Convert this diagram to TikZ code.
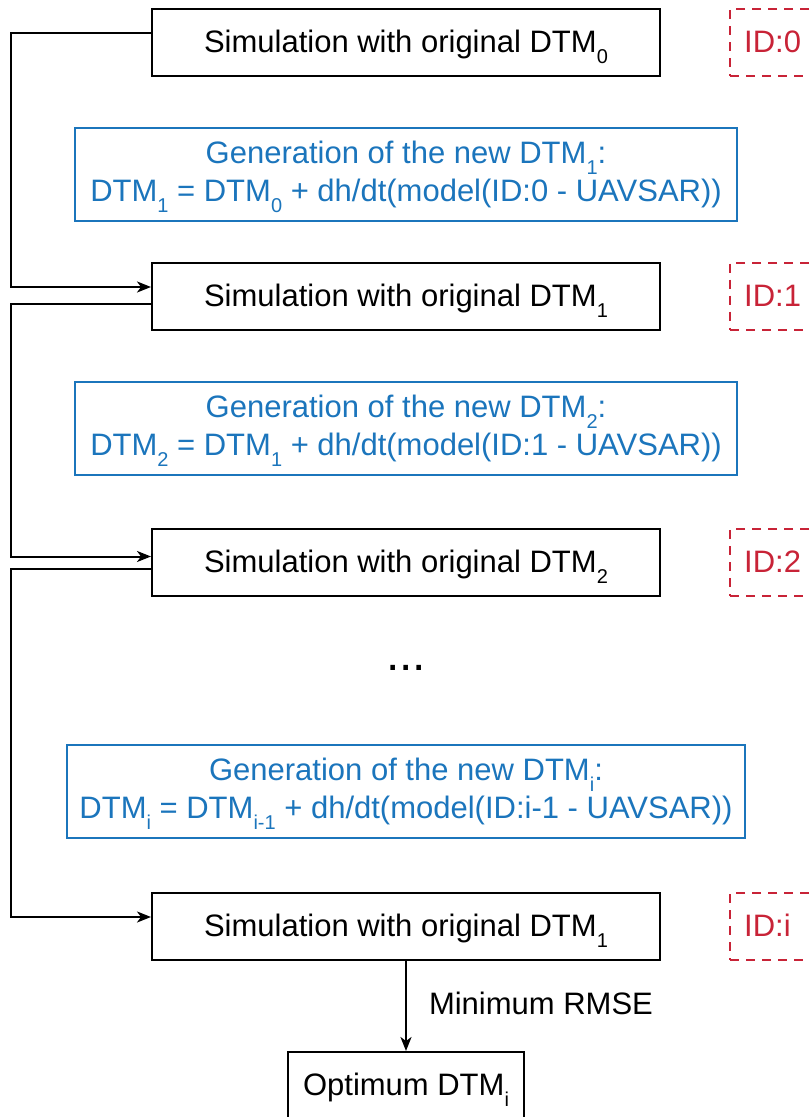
\documentclass[tikz,border=0pt]{standalone}
\usepackage{fontspec}
\setmainfont{Liberation Sans}
\usetikzlibrary{arrows.meta}

\definecolor{genblue}{RGB}{27,117,188}
\definecolor{idred}{RGB}{200,35,55}

% lowered subscript as used in the labels (no effect on the line box)
\newcommand{\dsub}[1]{\raisebox{-11pt}[0pt][0pt]{\fontsize{20}{20}\selectfont #1}}

\tikzset{
  simbox/.style={draw=black, line width=2pt, minimum width=508pt, minimum height=67pt,
                 inner sep=0pt, text height=22.5pt, text depth=2pt,
                 font=\fontsize{31}{36}\selectfont},
  genbox/.style={draw=genblue, line width=2pt, minimum height=93pt, inner sep=0pt,
                 text=genblue, align=center, font=\fontsize{31}{38}\selectfont},
  idbox/.style={draw=idred, line width=2pt, dash pattern=on 9pt off 7pt,
                minimum width=110pt, minimum height=67pt, inner sep=0pt},
  idtext/.style={text=idred, anchor=west, inner sep=0pt, text height=22.5pt, text depth=2pt,
                 font=\fontsize{31}{36}\selectfont},
  optbox/.style={draw=black, line width=2pt, minimum width=236pt, minimum height=67pt,
                 inner sep=0pt, text height=22.5pt, text depth=2pt,
                 font=\fontsize{31}{36}\selectfont},
  link/.style={draw=black, line width=2pt, -{Stealth[length=14pt,width=11pt,inset=4pt]}},
}

\begin{document}
\begin{tikzpicture}[x=1pt, y=-1pt]
  \path[use as bounding box] (0,0) rectangle (810,1117);
  \clip (0,0) rectangle (810,1117);

  % simulation runs
  \node[simbox] (sim0) at (406,42.5) {Simulation with original DTM\dsub{0}};
  \node[simbox] (sim1) at (406,296)  {Simulation with original DTM\dsub{1}};
  \node[simbox] (sim2) at (406,562.5){Simulation with original DTM\dsub{2}};
  \node[simbox] (simi) at (406,926.5){Simulation with original DTM\dsub{1}};

  % DTM generation steps
  \node[genbox, minimum width=662pt] (gen1) at (406,174)
    {Generation of the new DTM\dsub{1}:\\
     DTM\dsub{1} = DTM\dsub{0} + dh/dt(model(ID:0 - UAVSAR))};
  \node[genbox, minimum width=662pt] (gen2) at (406,428)
    {Generation of the new DTM\dsub{2}:\\
     DTM\dsub{2} = DTM\dsub{1} + dh/dt(model(ID:1 - UAVSAR))};
  \node[genbox, minimum width=678pt] (geni) at (406,791)
    {Generation of the new DTM\dsub{i}:\\
     DTM\dsub{i} = DTM\dsub{i-1} + dh/dt(model(ID:i-1 - UAVSAR))};

  % ellipsis between the generic steps
  \node[inner sep=0pt, font=\fontsize{48}{48}\selectfont] (dots) at (406,668) {...};

  % run identifiers
  \node[idbox] (id0) at (785,42.5) {};
  \node[idbox] (id1) at (785,296) {};
  \node[idbox] (id2) at (785,562.5) {};
  \node[idbox] (idi) at (785,926.5) {};
  \node[idtext] (id0t) at (744,42.5) {ID:0};
  \node[idtext] (id1t) at (744,296) {ID:1};
  \node[idtext] (id2t) at (744,562.5) {ID:2};
  \node[idtext] (idit) at (744,926.5) {ID:i};

  % final result
  \node[optbox] (opt) at (406,1085.5) {Optimum DTM\dsub{i}};

  % feedback loops along the left side
  \draw[link] ([yshift=9.5pt]sim0.west) -- ++(-140,0) |- ([yshift=9pt]sim1.west);
  \draw[link] ([yshift=-8pt]sim1.west) -- ++(-140,0) |- ([yshift=6pt]sim2.west);
  \draw[link] ([yshift=-6.5pt]sim2.west) -- ++(-140,0) |- ([yshift=9.5pt]simi.west);

  % selection of the best run
  \draw[link] (simi.south) -- (opt.north)
    node[pos=0.48, anchor=west, inner sep=0pt, xshift=22pt, text height=22.5pt, text depth=2pt,
         font=\fontsize{31}{36}\selectfont] (rmse) {Minimum RMSE};
\end{tikzpicture}
\end{document}
